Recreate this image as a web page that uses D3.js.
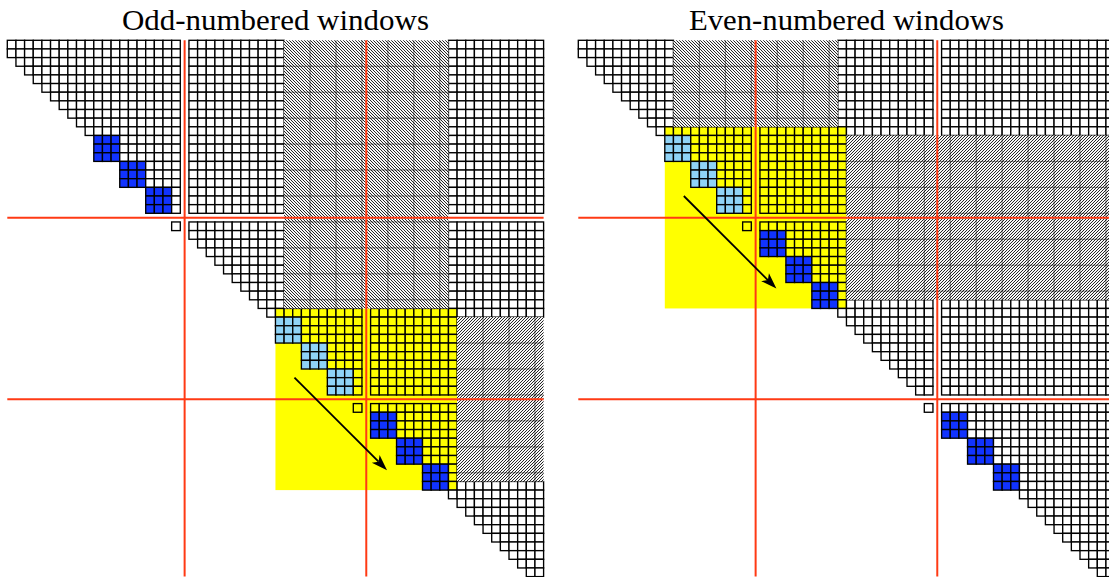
<!DOCTYPE html>
<html>
<head>
<meta charset="utf-8">
<script src="https://cdn.jsdelivr.net/npm/d3@7"></script>
<style>
  html, body { margin: 0; padding: 0; background: #fff; }
  svg { display: block; }
</style>
</head>
<body>
<svg id="chart" width="1109" height="577"></svg>
<script>
// ---------------- data ----------------
const panelTitles = ["Odd-numbered windows", "Even-numbered windows"];
const blockSize = 20;          // rows/cols per diagonal block
const blockCount = 3;          // 3 x 3 blocks -> 60 x 60 Hessenberg matrix
const windowRanges = [[30, 49], [10, 29]];                 // active (yellow) window, [first, last] index
const blueBulgeRows = [[11, 14, 17, 41, 44, 47], [21, 24, 27, 41, 44, 47]]; // 3x3 bulges (dark blue)
const lightBulgeRows = [[31, 34, 37], [11, 14, 17]];       // 3x3 bulges (light blue)
const topHatch = [[0, 29, 31, 48], [0, 9, 11, 28]];        // rowFirst,rowLast,colFirst,colLast
const rightHatch = [[31, 48, 50, 59], [11, 28, 30, 59]];   // rowFirst,rowLast,colFirst,colLast
const arrowStart = [2.2, 8.0];                             // in cells, relative to window corner
const arrowEnd = [12.9, 18.7];

// ---------------- layout ----------------
const svg = d3.select("#chart");
const cell = 8.65;
const nDisp = blockCount * blockSize + (blockCount - 1); // display slots incl. gaps
const panelX = [7.3, 578.3];
const gridTop = 40.3;
const disp = i => i + Math.floor(i / blockSize);
const N = blockSize * blockCount;

const COL = { white: "#ffffff", yellow: "#ffff00", blue: "#1133ff", light: "#8fd3f7", red: "#ff3a14" };

const defs = svg.append("defs");
function hatch(id, dir) {
  const p = defs.append("pattern").attr("id", id).attr("patternUnits", "userSpaceOnUse")
    .attr("width", 3).attr("height", 3);
  p.append("rect").attr("width", 3).attr("height", 3).attr("fill", "#f6f6f6");
  const d = dir === "nw"
    ? "M-1,-1 L4,4 M-1,2 L1,4 M2,-1 L4,1"
    : "M-1,4 L4,-1 M-1,1 L1,-1 M2,4 L4,2";
  p.append("path").attr("d", d).attr("stroke", "#000").attr("stroke-width", 0.85);
}
hatch("hatchNW", "nw");
hatch("hatchNE", "ne");

panelTitles.forEach((title, p) => {
  const x = d3.scaleLinear().domain([0, nDisp]).range([panelX[p], panelX[p] + nDisp * cell]);
  const y = d3.scaleLinear().domain([0, nDisp]).range([gridTop, gridTop + nDisp * cell]);
  const g = svg.append("g");

  const [ws, we] = windowRanges[p];
  const inRange = (v, a, b) => v >= a && v <= b;
  const inHatch = (i, j) => {
    const t = topHatch[p], r = rightHatch[p];
    return (inRange(i, t[0], t[1]) && inRange(j, t[2], t[3])) ||
           (inRange(i, r[0], r[1]) && inRange(j, r[2], r[3]));
  };
  const inBulge = (list, i, j) => list.some(s => inRange(i, s, s + 2) && inRange(j, s - 1, s + 1));

  // yellow window background
  g.append("rect")
    .attr("x", x(disp(ws))).attr("y", y(disp(ws)))
    .attr("width", x(disp(we) + 1) - x(disp(ws)))
    .attr("height", y(disp(we) + 1) - y(disp(ws)))
    .attr("fill", COL.yellow);

  // cells
  const cells = [];
  for (let i = 0; i < N; i++) {
    for (let j = 0; j < N; j++) {
      const blue = inBulge(blueBulgeRows[p], i, j);
      const light = inBulge(lightBulgeRows[p], i, j);
      const nz = j >= i - 1 || blue || light;
      if (!nz || inHatch(i, j)) continue;
      let c = COL.white;
      if (inRange(i, ws, we) && inRange(j, ws, we)) c = COL.yellow;
      if (light) c = COL.light;
      if (blue) c = COL.blue;
      cells.push({ i, j, c });
    }
  }
  g.selectAll("rect.cell").data(cells).join("rect")
    .attr("class", "cell")
    .attr("x", d => x(disp(d.j))).attr("y", d => y(disp(d.i)))
    .attr("width", cell).attr("height", cell)
    .attr("fill", d => d.c).attr("stroke", "#000").attr("stroke-width", 1.35);

  // hatched regions
  [[topHatch[p], "hatchNW"], [rightHatch[p], "hatchNE"]].forEach(([h, id]) => {
    const hx = x(disp(h[2])), hy = y(disp(h[0]));
    const hw = x(disp(h[3]) + 1) - hx, hh = y(disp(h[1]) + 1) - hy;
    g.append("rect").attr("x", hx).attr("y", hy).attr("width", hw).attr("height", hh)
      .attr("fill", `url(#${id})`);
    const gx = d3.range(hx + 3 * cell, hx + hw - 2, 3 * cell);
    const gy = d3.range(hy + 3 * cell, hy + hh - 2, 3 * cell);
    g.selectAll(null).data(gx).join("line")
      .attr("x1", d => d).attr("x2", d => d).attr("y1", hy).attr("y2", hy + hh)
      .attr("stroke", "#000").attr("stroke-opacity", 0.5).attr("stroke-width", 1);
    g.selectAll(null).data(gy).join("line")
      .attr("y1", d => d).attr("y2", d => d).attr("x1", hx).attr("x2", hx + hw)
      .attr("stroke", "#000").attr("stroke-opacity", 0.5).attr("stroke-width", 1);
  });

  // red block separators
  const seps = d3.range(1, blockCount).map(b => b * (blockSize + 1) - 0.5);
  g.selectAll(null).data(seps).join("line")
    .attr("x1", d => x(d)).attr("x2", d => x(d)).attr("y1", y(0)).attr("y2", y(nDisp))
    .attr("stroke", COL.red).attr("stroke-width", 2);
  g.selectAll(null).data(seps).join("line")
    .attr("y1", d => y(d)).attr("y2", d => y(d)).attr("x1", x(0)).attr("x2", x(nDisp))
    .attr("stroke", COL.red).attr("stroke-width", 2);

  // arrow
  const ox = disp(ws), oy = disp(ws);
  const x1 = x(ox + arrowStart[0]), y1 = y(oy + arrowStart[1]);
  const x2 = x(ox + arrowEnd[0]), y2 = y(oy + arrowEnd[1]);
  const ang = Math.atan2(y2 - y1, x2 - x1);
  const L = 16, W = 5.5;
  const bx = x2 - L * Math.cos(ang), by = y2 - L * Math.sin(ang);
  const nx = -Math.sin(ang), ny = Math.cos(ang);
  const ix = x2 - 0.75 * L * Math.cos(ang), iy = y2 - 0.75 * L * Math.sin(ang);
  g.append("line").attr("x1", x1).attr("y1", y1).attr("x2", ix).attr("y2", iy)
    .attr("stroke", "#000").attr("stroke-width", 1.8);
  g.append("path")
    .attr("d", `M${x2},${y2} L${bx + W * nx},${by + W * ny} L${ix},${iy} L${bx - W * nx},${by - W * ny} Z`)
    .attr("fill", "#000");

  // title
  g.append("text")
    .attr("x", (x(0) + x(nDisp)) / 2).attr("y", 30)
    .attr("text-anchor", "middle")
    .attr("font-family", "'Liberation Serif', 'DejaVu Serif', serif")
    .attr("font-size", 29)
    .attr("textLength", p === 0 ? 307 : 315).attr("lengthAdjust", "spacingAndGlyphs")
    .text(title);
});
</script>
</body>
</html>
